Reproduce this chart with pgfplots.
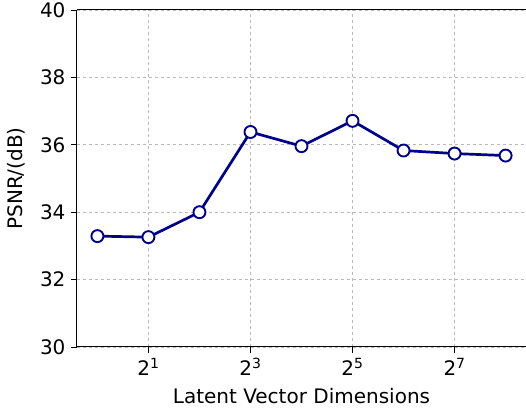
\documentclass[border=0pt]{standalone}
\usepackage{fontspec}
\setmainfont{DejaVu Sans}
\usepackage{pgfplots}
\pgfplotsset{compat=1.18}
\definecolor{navy}{RGB}{0,0,139}
\begin{document}
\begin{tikzpicture}
\begin{axis}[
  scale only axis, width=449pt, height=337pt,
  xmode=log, log basis x=2,
  xmin=0.7579, xmax=337.8,
  ymin=30, ymax=40,
  axis x line=box, axis y line=left,
  axis line style={line width=1pt, -},
  xtick={2,8,32,128}, xticklabels={2\textsuperscript{1},2\textsuperscript{3},2\textsuperscript{5},2\textsuperscript{7}},
  ytick={30,32,34,36,38,40},
  minor xtick={},
  tick pos=left, tick align=outside,
  major tick length=6pt,
  tick style={black, line width=0.9pt},
  grid=major,
  grid style={gray!55, dashed, line width=0.7pt},
  /pgf/number format/assume math mode=true,
  every tick label/.append style={font=\fontsize{20}{24}\selectfont},
  xlabel={Latent Vector Dimensions},
  ylabel={PSNR/(dB)},
  label style={font=\fontsize{20}{24}\selectfont},
  xlabel style={at={(axis description cs:0.5,-0.1691)}, anchor=base},
  ylabel style={at={(axis description cs:-0.1347,0.5)}, anchor=center},
  xticklabel style={anchor=base, yshift=-23pt},
  yticklabel style={xshift=-2pt},
]
\addplot[navy, line width=2.7pt, mark=*, mark size=6pt,
  mark options={fill=white, draw=navy, line width=1.9pt}]
  coordinates {(1,33.29) (2,33.26) (4,34.0) (8,36.38) (16,35.96) (32,36.71) (64,35.83) (128,35.74) (256,35.68)};
\end{axis}
\pgfresetboundingbox
\path[use as bounding box] ([xshift=-77pt,yshift=-67pt]current axis.south west) rectangle ([yshift=10pt]current axis.north east);
\end{tikzpicture}
\end{document}
